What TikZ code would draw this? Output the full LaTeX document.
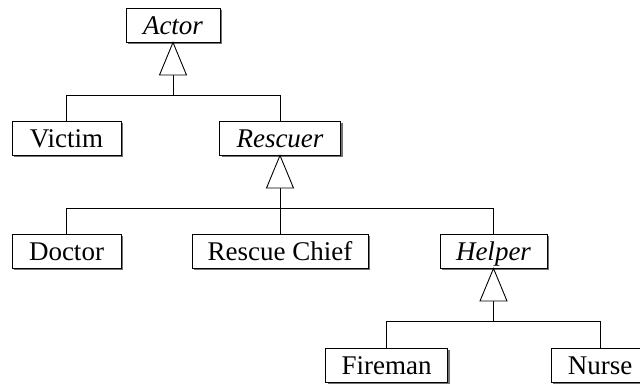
\documentclass[tikz,border=0pt]{standalone}
\usepackage{fontspec}
\setmainfont{Liberation Serif}
\usetikzlibrary{shadows}
\begin{document}
\begin{tikzpicture}[x=1pt,y=-1pt,
  cls/.style={draw=black, line width=0.9pt, fill=white, rectangle,
    minimum height=34pt, inner sep=0pt,
    font=\fontsize{27}{30}\selectfont,
    text height=21pt, text depth=3pt,
    drop shadow={shadow xshift=2pt, shadow yshift=-2pt, fill=black!55, opacity=1}},
  abs/.style={cls, font=\fontsize{27}{30}\selectfont\itshape},
  link/.style={draw=black, line width=0.9pt},
  gen/.style={draw=black, line width=0.9pt, fill=white, line join=miter}
]
\clip (0,0) rectangle (640,383);
\fill[white] (0,0) rectangle (640,383);

% classes
\node[abs, minimum width=94pt]  (actor)   at (173,25)    {Actor};
\node[cls, minimum width=109pt] (victim)  at (66.5,138)  {Victim};
\node[abs, minimum width=121pt] (rescuer) at (280,138)   {Rescuer};
\node[cls, minimum width=109pt] (doctor)  at (66.5,251)  {Doctor};
\node[cls, minimum width=176pt] (chief)   at (280,251)   {Rescue Chief};
\node[abs, minimum width=107pt] (helper)  at (493.5,251) {Helper};
\node[cls, minimum width=122pt] (fireman) at (386.5,365) {Fireman};
\node[cls, minimum width=98pt]  (nurse)   at (600,365)   {Nurse};

% Actor generalization
\coordinate (aB) at (173,75);
\coordinate (aJ) at (173,95);
\draw[link] (aB) -- (aJ);
\draw[link] (victim.north |- aJ) -- (rescuer.north |- aJ);
\draw[link] (victim.north |- aJ) -- (victim.north);
\draw[link] (rescuer.north |- aJ) -- (rescuer.north);
\draw[gen] (actor.south) -- ([xshift=-13.5pt]aB) -- ([xshift=13.5pt]aB) -- cycle;

% Rescuer generalization
\coordinate (rB) at (280,188);
\coordinate (rJ) at (280,208);
\draw[link] (rB) -- (chief.north);
\draw[link] (doctor.north |- rJ) -- (helper.north |- rJ);
\draw[link] (doctor.north |- rJ) -- (doctor.north);
\draw[link] (helper.north |- rJ) -- (helper.north);
\draw[gen] (rescuer.south) -- ([xshift=-13.5pt]rB) -- ([xshift=13.5pt]rB) -- cycle;

% Helper generalization
\coordinate (hB) at (493.5,301);
\coordinate (hJ) at (493.5,321);
\draw[link] (hB) -- (hJ);
\draw[link] (fireman.north |- hJ) -- (nurse.north |- hJ);
\draw[link] (fireman.north |- hJ) -- (fireman.north);
\draw[link] (nurse.north |- hJ) -- (nurse.north);
\draw[gen] (helper.south) -- ([xshift=-13.5pt]hB) -- ([xshift=13.5pt]hB) -- cycle;
\end{tikzpicture}
\end{document}
